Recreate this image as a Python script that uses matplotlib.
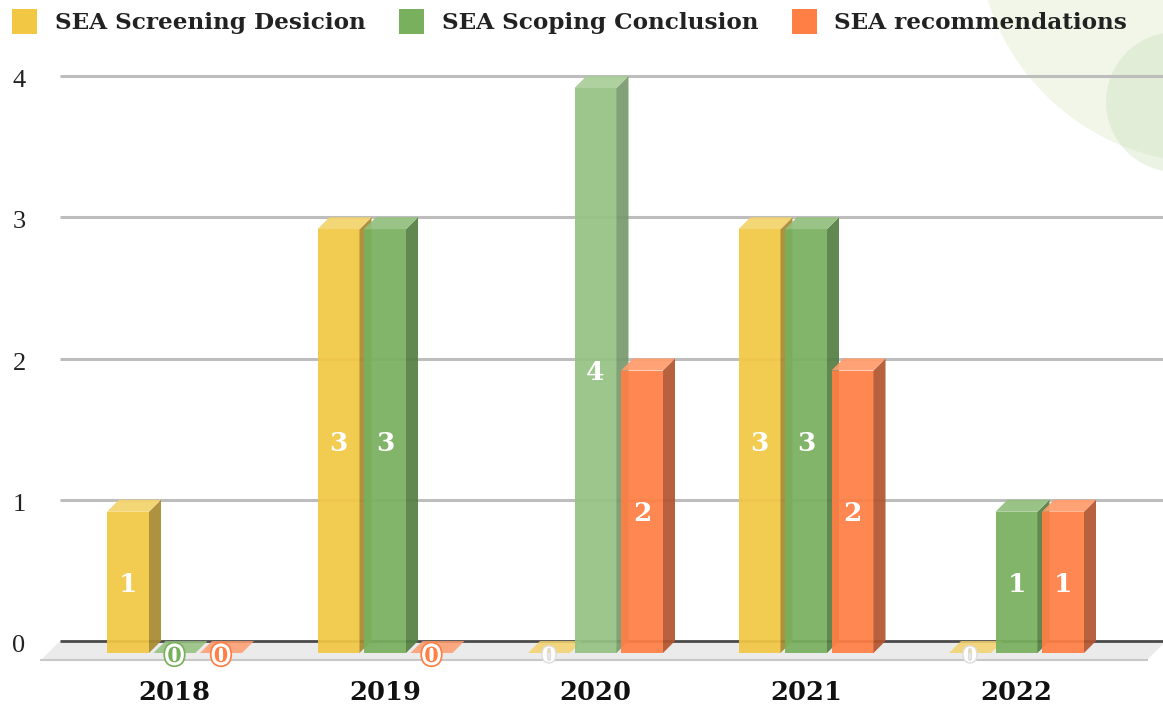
import numpy as np
import matplotlib.pyplot as plt
from matplotlib.patches import Polygon, Rectangle, Ellipse
import matplotlib.patheffects as pe

years = ["2018", "2019", "2020", "2021", "2022"]
series_names = ["SEA Screening Desicion", "SEA Scoping Conclusion", "SEA recommendations"]
screening = [1, 3, 0, 3, 0]
scoping = [0, 3, 4, 3, 1]
recommendations = [0, 0, 2, 2, 1]
y_ticks = [0, 1, 2, 3, 4]

values = [screening, scoping, recommendations]

# front, side, top colours per series
colors = [
    ("#F2C744", "#A88A30", "#F3D36C"),
    ("#79B05E", "#557F44", "#93C07E"),
    ("#FF7F45", "#B35530", "#FF9B6C"),
]
# the 2020 scoping bar is drawn lighter (hover state in the original)
faded = {(1, 2): ("#95C283", "#7A9A6E", "#A9CD98")}

W, H = 1163, 707
fig = plt.figure(figsize=(W / 100, H / 100), dpi=100)
ax = fig.add_axes([0, 0, 1, 1])

# pixel -> data helpers (group 0 centre at 186.5px, one unit = 210.5px / 141.25px)
sx, sy = 210.5, 141.25
x0, y0 = 186.5, 641


def px(x):
    return (x - x0) / sx


def py(y):
    return (y0 - y) / sy


ax.set_xlim(px(0), px(W))
ax.set_ylim(py(H), py(0))
ax.axis("off")

# background decoration
ax.add_patch(Ellipse((px(1210), py(-70)), 2 * 233 / sx, 2 * 233 / sy,
                     facecolor="#F1F6E8", edgecolor="none", zorder=0))
ax.add_patch(Ellipse((px(1176), py(102)), 2 * 70 / sx, 2 * 70 / sy,
                     facecolor="#CADEB9", alpha=0.36, edgecolor="none", zorder=0))

# floor
fd = 19 / sy
ax.add_patch(Polygon([(px(60), 0), (px(1166), 0), (px(1147), -fd), (px(41), -fd)],
                     closed=True, facecolor="#EBEBEB", edgecolor="none", zorder=1))
ax.plot([px(41), px(1147)], [-fd, -fd], color="#C8C8C8", lw=1.5, zorder=1)

# grid
ax.hlines(y_ticks[1:], px(60), px(W), color="#BDBDBD", lw=2.2, zorder=1)
ax.hlines(0, px(60), px(W), color="#4A4A4A", lw=2, zorder=1.5)
for t in y_ticks:
    ax.text(px(19), t - 5 / sy, str(t), ha="center", va="center", fontsize=19,
            family="Liberation Serif", color="#222222")

ox, oy = 12 / sx, 12 / sy
bw = 42 / sx
pitch = 46.5 / sx

z = 2
for i in range(len(years)):
    for k in range(len(values)):
        v = values[k][i]
        front, side, top = faded.get((k, i), colors[k])
        fl = i + (k - 1) * pitch - bw / 2 - ox
        fr = fl + bw
        if v > 0:
            ax.add_patch(Rectangle((fl, -oy), bw, v, facecolor=front, edgecolor="none",
                                   alpha=0.93, zorder=z))
            ax.add_patch(Polygon([(fr, -oy), (fr + ox, 0), (fr + ox, v), (fr, v - oy)],
                                 closed=True, facecolor=side, edgecolor="none", alpha=0.93, zorder=z))
            ax.add_patch(Polygon([(fl, v - oy), (fl + ox, v), (fr + ox, v), (fr, v - oy)],
                                 closed=True, facecolor=top, edgecolor="none", alpha=0.93, zorder=z))
            ax.text(fl + bw / 2, v / 2 - oy - 2 / sy, str(v), ha="center", va="center", fontsize=19,
                    weight="bold", family="DejaVu Serif", color="white", zorder=100)
        else:
            ax.add_patch(Polygon([(fl, -oy), (fr, -oy), (fr + ox, 0), (fl + ox, 0)],
                                 closed=True, facecolor=top, edgecolor="none", alpha=0.85, zorder=z))
            if k == 0:
                effects = [pe.Stroke(linewidth=2, foreground="#DDDDDD"), pe.Normal()]
                tc = "white"
            else:
                effects = [pe.Stroke(linewidth=7, foreground=front),
                           pe.Stroke(linewidth=4.5, foreground="white"), pe.Normal()]
                tc = front
            ax.text(fl + bw / 2, -oy - 3 / sy, "0", ha="center", va="center", fontsize=15,
                    weight="bold", family="DejaVu Serif", color=tc, path_effects=effects, zorder=101)
        z += 1

for i, yr in enumerate(years):
    ax.text(i - ox, py(692), yr, ha="center", va="center", fontsize=18.5, weight="bold",
            family="DejaVu Serif", color="#111111")

# legend
leg_sq = [12, 399, 792]
leg_tx = [55, 442, 834]
for k, name in enumerate(series_names):
    ax.add_patch(Rectangle((px(leg_sq[k]), py(34)), 25 / sx, 25 / sy,
                           facecolor=colors[k][0], edgecolor="none", zorder=5))
    ax.text(px(leg_tx[k]), py(23), name, ha="left", va="center", fontsize=16.7,
            weight="bold", family="DejaVu Serif", color="#222222", zorder=5)

fig.savefig("out.png", dpi=100)
